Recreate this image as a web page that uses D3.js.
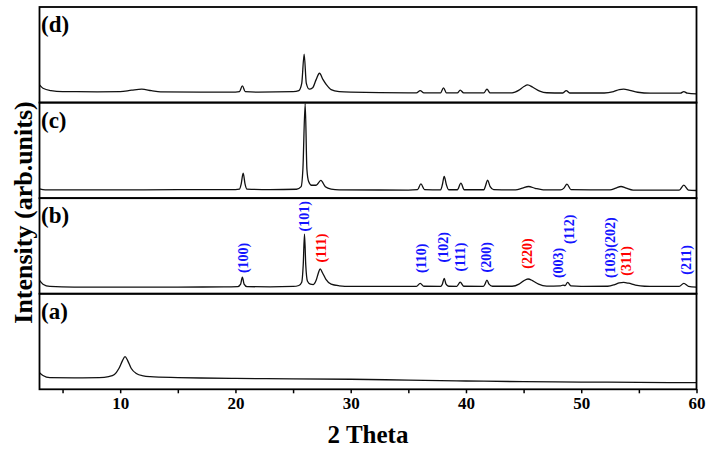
<!DOCTYPE html>
<html>
<head>
<meta charset="utf-8">
<script src="https://cdn.jsdelivr.net/npm/d3@7"></script>
<style>
  html, body { margin: 0; padding: 0; background: #fff; }
  svg { display: block; }
  text { font-family: "Liberation Serif", "Times New Roman", serif; font-weight: bold; }
</style>
</head>
<body>
<svg id="chart" width="713" height="451"></svg>
<script>
// ---------- DATA (2θ, intensity as % of panel height) ----------
const panelNames = ["(d)", "(c)", "(b)", "(a)"];

const patternA = [[3.0,17.4],[3.3,14.5],[3.9,12.2],[6,12.0],[8.2,12.2],[9.0,13.3],[9.5,15.5],[9.9,22],[10.2,30],[10.42,34.2],[10.65,30],[10.95,22],[11.4,16.5],[12,14],[12.6,13.2],[15,12.3],[17,11.8],[20,11.4],[25,11.0],[30,10.5],[35,9.6],[40,8.7],[45,8.0],[50,7.6],[55,7.2],[60,6.9]];

const patternB = [[3.0,13.9],[3.3,10],[3.9,7.6],[6,7.0],[10,7.0],[15,7.0],[19,7.1],[20.2,7.4],[20.45,10],[20.6,17.4],[20.75,10],[21.0,7.4],[23,7.2],[25,7.6],[25.5,8.6],[25.75,12],[25.88,30],[25.99,62.4],[26.1,30],[26.25,13],[26.5,10],[26.75,9.6],[27.0,14],[27.2,22],[27.35,26.1],[27.55,22],[27.85,15],[28.3,10],[29,8.3],[30,7.6],[35,7.6],[35.7,7.7],[36.03,10.8],[36.35,7.8],[37.8,7.7],[37.95,10],[38.11,16],[38.27,10],[38.5,7.8],[39.2,7.7],[39.5,12.2],[39.8,7.8],[41.5,7.7],[41.65,10],[41.82,14.3],[42.0,10],[42.3,7.8],[44,7.8],[44.6,10],[45.0,13.5],[45.38,15.4],[45.8,13.5],[46.3,10],[47,8.0],[48.2,8.2],[48.42,9.1],[48.6,8.6],[48.82,11.8],[49.1,8.2],[50,7.7],[52.3,7.8],[52.9,9.5],[53.3,11.3],[53.68,11.8],[54.1,11],[54.7,9],[55.5,7.8],[58.5,7.7],[58.9,10.8],[59.3,7.8],[60,7.0]];

const patternC = [[3.0,9.8],[3.5,8.7],[10,8.7],[15,8.9],[20,9.0],[20.35,9.5],[20.5,15],[20.67,26.2],[20.83,15],[21.0,9.5],[23,9.0],[25.3,9.3],[25.7,12],[25.85,30],[26.05,99],[26.2,30],[26.35,17.4],[26.6,13.5],[27.0,13.5],[27.41,18.5],[27.8,12],[28.3,9.5],[29,8.7],[35,8.5],[35.8,9],[36.09,15],[36.4,9],[37.8,8.6],[37.95,14],[38.11,22.7],[38.3,14],[38.5,8.8],[39.25,8.8],[39.56,15.7],[39.85,8.8],[41.55,8.8],[41.7,13],[41.87,18.9],[42.1,12],[42.4,8.9],[44.3,8.6],[44.9,10.5],[45.43,12.2],[46.0,10.3],[46.7,8.7],[48.2,8.6],[48.5,10.5],[48.76,14.7],[49.1,9],[52.5,8.6],[53.0,10.5],[53.45,12.2],[53.9,10.5],[54.5,8.5],[58.5,8.3],[58.9,13.6],[59.3,8.5],[60,8.0]];

const patternD = [[3.0,18.5],[3.3,15],[4.0,12.5],[5,11.5],[8,11.3],[10,11.5],[11,13],[11.87,14.0],[12.7,12.5],[13.5,11.2],[17,11],[20,11],[20.35,11.5],[20.6,17.5],[20.85,11.5],[22,10.9],[25,11.4],[25.5,12.5],[25.75,20],[25.96,50.6],[26.15,20],[26.4,14.0],[26.7,15.5],[27.0,24],[27.29,30.7],[27.6,24],[27.9,18.5],[28.3,13.5],[29,11.5],[30,10.9],[35,10.2],[35.7,10.2],[36.03,12.5],[36.35,10.2],[37.8,10.2],[38.05,15.4],[38.3,10.2],[39.25,10.1],[39.5,13.0],[39.8,10.1],[41.55,10.1],[41.82,14.0],[42.1,10.1],[44,10.2],[44.6,13],[45.0,16.5],[45.35,18.5],[45.8,16],[46.4,12],[47,10.3],[48.4,10],[48.7,12.5],[49.0,10],[52,10],[52.8,11.5],[53.3,13.5],[53.68,14.0],[54.2,12.8],[54.9,10.8],[56,9.8],[58.6,9.8],[58.9,11.5],[59.2,9.8],[60,9.1]];

// peak index labels on panel (b)
const hklLabels = ["(100)","(101)","(111)","(110)","(102)","(111)","(200)","(220)","(003)","(112)","(103)(202)","(311)","(211)"];
const hklPos    = [20.69, 25.99, 27.44, 36.09, 38.0, 39.5, 41.76, 45.29, 47.98, 48.9, 52.46, 53.91, 59.12];
const hklLevel  = [21.6, 65.1, 32.7, 21.6, 32.7, 23.3, 22.3, 26.1, 16.4, 51.9, 16.4, 18.8, 19.9];
const hklPhase  = ["h","h","c","h","h","h","h","c","h","h","h","c","h"];

const majorTicks = [10, 20, 30, 40, 50, 60];
const minorTicks = [5, 15, 25, 35, 45, 55];
const xDomain = [3, 60];

// ---------- LAYOUT ----------
const svg = d3.select("#chart");
const mLeft = 39.5, mRight = 696.5, mTop = 7, mBottom = 389.3;
const panelH = (mBottom - mTop) / 4;
const patterns = [patternD, patternC, patternB, patternA];
const phaseColor = { h: "#1414ff", c: "#ff0000" };

const x = d3.scaleLinear().domain(xDomain).range([mLeft, mRight]);

const panels = patterns.map((data, i) => {
  const y0 = mTop + i * panelH;
  const y = d3.scaleLinear().domain([0, 100]).range([y0 + panelH, y0]);
  return { data, y, y0, name: panelNames[i] };
});

// traces
const lineGen = (y) => d3.line().x(d => x(d[0])).y(d => y(d[1])).curve(d3.curveMonotoneX);
panels.forEach(p => {
  svg.append("path")
    .datum(p.data)
    .attr("fill", "none")
    .attr("stroke", "#111")
    .attr("stroke-width", 1.3)
    .attr("stroke-linejoin", "round")
    .attr("d", lineGen(p.y));
  svg.append("text")
    .attr("x", 41)
    .attr("y", p.y0 + 25)
    .attr("font-size", 23)
    .attr("fill", "#000")
    .text(p.name);
});

// panel frames
panels.forEach(p => {
  svg.append("rect")
    .attr("x", mLeft).attr("y", p.y0)
    .attr("width", mRight - mLeft).attr("height", panelH)
    .attr("fill", "none").attr("stroke", "#000").attr("stroke-width", 1.8);
});

// hkl labels on panel (b)
const pb = panels[2];
hklLabels.forEach((lab, i) => {
  svg.append("text")
    .attr("transform", `translate(${x(hklPos[i]) + 5},${pb.y(hklLevel[i])}) rotate(-90)`)
    .attr("font-size", 14)
    .attr("fill", phaseColor[hklPhase[i]])
    .attr("text-anchor", "start")
    .text(lab);
});

// x axis
const axis = d3.axisBottom(x)
  .tickValues(majorTicks.concat(minorTicks).sort((a, b) => a - b))
  .tickSize(4)
  .tickPadding(4)
  .tickFormat(d => majorTicks.includes(d) ? d3.format("d")(d) : "");
const gx = svg.append("g").attr("transform", `translate(0,${mBottom})`).call(axis);
gx.select(".domain").remove();
gx.selectAll(".tick line").attr("stroke", "#000").attr("stroke-width", 1.5);
gx.selectAll(".tick text")
  .attr("fill", "#000")
  .attr("font-size", 17)
  .attr("font-family", "'Liberation Serif', 'Times New Roman', serif")
  .attr("font-weight", "bold");

// axis titles
svg.append("text")
  .attr("x", 368).attr("y", 443)
  .attr("text-anchor", "middle")
  .attr("font-size", 25)
  .attr("fill", "#000")
  .text("2 Theta");

svg.append("text")
  .attr("transform", "translate(32,212.5) rotate(-90)")
  .attr("text-anchor", "middle")
  .attr("font-size", 26)
  .attr("fill", "#000")
  .text("Intensity (arb.units)");
</script>
</body>
</html>
